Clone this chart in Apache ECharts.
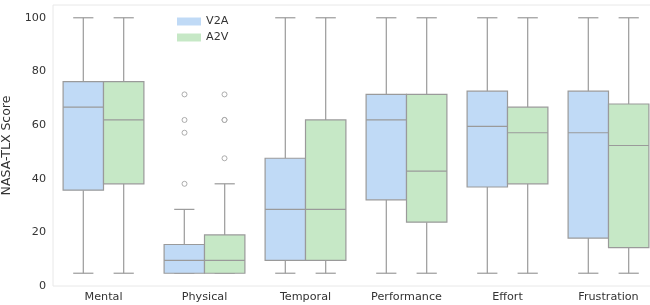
<!DOCTYPE html>
<html>
<head>
<meta charset="utf-8">
<script src="https://cdn.jsdelivr.net/npm/echarts@6/dist/echarts.min.js"></script>
<style>html,body{margin:0;padding:0;background:#fff;}#c{width:650px;height:305px;}</style>
</head>
<body>
<div id="c"></div>
<script>
const categories = ['Mental', 'Physical', 'Temporal', 'Performance', 'Effort', 'Frustration'];
const seriesNames = ['V2A', 'A2V'];

const v2aMin    = [4.76, 4.76, 4.76, 4.76, 4.76, 4.76];
const v2aQ1     = [35.71, 4.76, 9.52, 32.14, 36.90, 17.86];
const v2aMedian = [66.67, 9.52, 28.57, 61.90, 59.52, 57.14];
const v2aQ3     = [76.19, 15.48, 47.62, 71.43, 72.62, 72.62];
const v2aMax    = [100, 28.57, 100, 100, 100, 100];

const a2vMin    = [4.76, 4.76, 4.76, 4.76, 4.76, 4.76];
const a2vQ1     = [38.10, 4.76, 9.52, 23.81, 38.10, 14.29];
const a2vMedian = [61.90, 9.52, 28.57, 42.86, 57.14, 52.38];
const a2vQ3     = [76.19, 19.05, 61.90, 71.43, 66.67, 67.86];
const a2vMax    = [100, 38.10, 100, 100, 100, 100];

// outliers: [category index, value]
const v2aOutliers = [[1, 71.43], [1, 61.90], [1, 57.14], [1, 38.10]];
const a2vOutliers = [[1, 71.43], [1, 61.90], [1, 61.90], [1, 47.62]];

const yTicks = [0, 20, 40, 60, 80, 100];

const FONT = 'DejaVu Sans';
const EDGE = '#9a9a9a';
const colors = ['#c0daf6', '#c6e8c6'];

function rows(mn, q1, md, q3, mx) {
  return categories.map((c, i) => [i, mn[i], q1[i], md[i], q3[i], mx[i]]);
}

function makeRender(side) {
  return function (params, api) {
    const x = api.value(0);
    const band = api.size([1, 0])[0];
    const w = band * 0.4;
    const cx = api.coord([x, 0])[0] + side * band * 0.2;
    const py = i => api.coord([x, api.value(i)])[1];
    const yMin = py(1), yQ1 = py(2), yMed = py(3), yQ3 = py(4), yMax = py(5);
    const ls = { stroke: EDGE, lineWidth: 1.2 };
    const fill = api.visual('color');
    return {
      type: 'group',
      children: [
        { type: 'line', shape: { x1: cx, y1: yQ3, x2: cx, y2: yMax }, style: ls },
        { type: 'line', shape: { x1: cx, y1: yQ1, x2: cx, y2: yMin }, style: ls },
        { type: 'line', shape: { x1: cx - w / 4, y1: yMax, x2: cx + w / 4, y2: yMax }, style: ls },
        { type: 'line', shape: { x1: cx - w / 4, y1: yMin, x2: cx + w / 4, y2: yMin }, style: ls },
        { type: 'rect', shape: { x: cx - w / 2, y: yQ3, width: w, height: yQ1 - yQ3 },
          style: { fill: fill, stroke: EDGE, lineWidth: 1.2 } },
        { type: 'line', shape: { x1: cx - w / 2, y1: yMed, x2: cx + w / 2, y2: yMed }, style: ls }
      ]
    };
  };
}

const chart = echarts.init(document.getElementById('c'), null, { renderer: 'canvas' });
chart.setOption({
  animation: false,
  backgroundColor: '#fff',
  textStyle: { fontFamily: FONT },
  legend: {
    data: seriesNames,
    orient: 'vertical',
    left: 172,
    top: 11,
    icon: 'rect',
    itemWidth: 24,
    itemHeight: 8,
    itemGap: 5,
    textStyle: { fontFamily: FONT, fontSize: 11.2, color: '#333' }
  },
  grid: {
    left: 53, top: 5, width: 606, height: 281,
    show: true, borderColor: '#e8e8e8', borderWidth: 1,
    containLabel: false, outerBoundsMode: 'none'
  },
  xAxis: {
    type: 'category',
    data: categories,
    boundaryGap: true,
    axisLine: { show: false },
    axisTick: { show: false },
    splitLine: { show: false },
    axisLabel: { fontFamily: FONT, fontSize: 11.2, color: '#333', margin: 6 }
  },
  yAxis: {
    type: 'value',
    min: 0,
    max: 104.76,
    interval: 20,
    name: 'NASA-TLX Score',
    nameLocation: 'middle',
    nameGap: 31,
    nameTextStyle: { fontFamily: FONT, fontSize: 12.5, color: '#333' },
    axisLine: { show: false },
    axisTick: { show: false },
    splitLine: { show: false },
    axisLabel: {
      fontFamily: FONT, fontSize: 11.2, color: '#333', margin: 7,
      showMaxLabel: false,
      formatter: v => (yTicks.indexOf(Math.round(v * 100) / 100) >= 0 ? String(v) : '')
    }
  },
  series: [
    {
      name: 'V2A', type: 'custom',
      itemStyle: { color: colors[0] },
      renderItem: makeRender(-1),
      encode: { x: 0, y: [1, 2, 3, 4, 5] },
      data: rows(v2aMin, v2aQ1, v2aMedian, v2aQ3, v2aMax)
    },
    {
      name: 'A2V', type: 'custom',
      itemStyle: { color: colors[1] },
      renderItem: makeRender(1),
      encode: { x: 0, y: [1, 2, 3, 4, 5] },
      data: rows(a2vMin, a2vQ1, a2vMedian, a2vQ3, a2vMax)
    },
    {
      name: 'V2A outliers', type: 'scatter',
      symbol: 'circle', symbolSize: 5, symbolOffset: [-20, 0],
      itemStyle: { color: '#fff', borderColor: EDGE, borderWidth: 1 },
      data: v2aOutliers
    },
    {
      name: 'A2V outliers', type: 'scatter',
      symbol: 'circle', symbolSize: 5, symbolOffset: [20, 0],
      itemStyle: { color: '#fff', borderColor: EDGE, borderWidth: 1 },
      data: a2vOutliers
    }
  ]
});
</script>
</body>
</html>
